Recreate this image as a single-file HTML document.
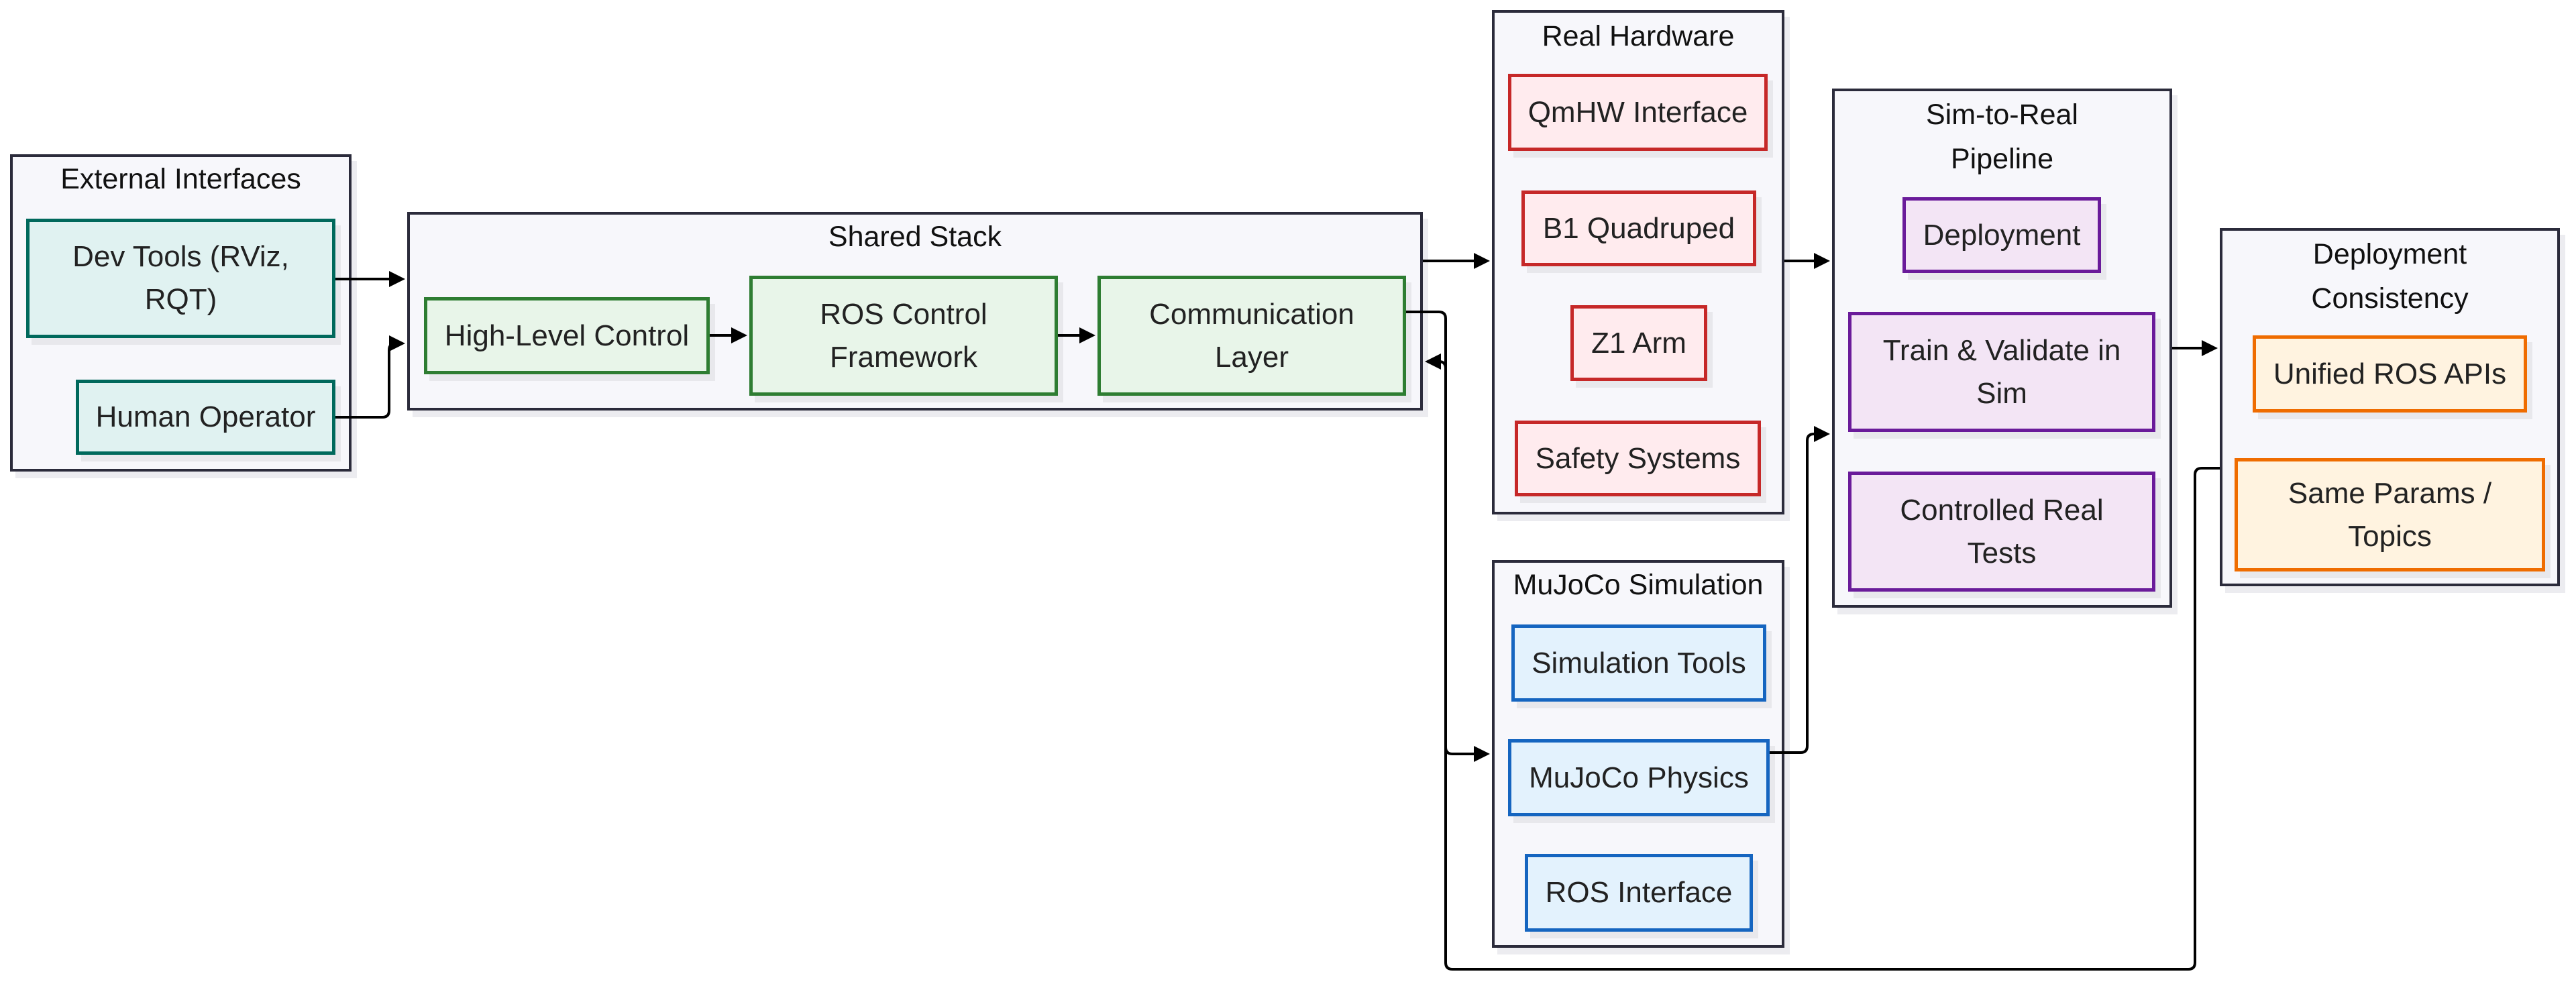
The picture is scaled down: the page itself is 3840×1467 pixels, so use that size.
<!DOCTYPE html>
<html><head><meta charset="utf-8"><style>
body{margin:0;width:3840px;height:1467px;background:#fff;position:relative;overflow:hidden;font-family:"Liberation Sans",sans-serif;color:#222;}
.c{position:absolute;background:#f7f7fb;border:4px solid #2b2b3b;box-sizing:border-box;box-shadow:8px 10px 0 #ececf0;}
.t{position:absolute;left:0;right:0;text-align:center;font-size:43px;line-height:66px;color:#111;}
.n{position:absolute;box-sizing:border-box;border:5px solid;display:flex;align-items:center;justify-content:center;text-align:center;font-size:44px;line-height:64px;box-shadow:8px 10px 0 #e8e8ec;color:#222;}
.g{border-color:#2e7d32;background:#e8f5e9}
.tl{border-color:#00695c;background:#e0f2f1}
.r{border-color:#c62828;background:#ffebee}
.b{border-color:#1565c0;background:#e3f2fd}
.p{border-color:#6a1b9a;background:#f3e5f5}
.o{border-color:#ef6c00;background:#fff3e0}
svg{position:absolute;left:0;top:0}
</style></head><body>
<div class="c" style="left:15px;top:230px;width:509px;height:473px"><div class="t" style="top:0px">External Interfaces</div></div>
<div class="c" style="left:607px;top:316px;width:1514px;height:296px"><div class="t" style="top:0px">Shared Stack</div></div>
<div class="c" style="left:2224px;top:15px;width:436px;height:752px"><div class="t" style="top:2px">Real Hardware</div></div>
<div class="c" style="left:2224px;top:835px;width:436px;height:578px"><div class="t" style="top:0px">MuJoCo Simulation</div></div>
<div class="c" style="left:2731px;top:132px;width:507px;height:774px"><div class="t" style="top:2px">Sim-to-Real<br>Pipeline</div></div>
<div class="c" style="left:3309px;top:340px;width:507px;height:534px"><div class="t" style="top:2px">Deployment<br>Consistency</div></div>

<div class="n tl" style="left:39px;top:326px;width:461px;height:178px">Dev Tools (RViz,<br>RQT)</div>
<div class="n tl" style="left:113px;top:566px;width:387px;height:112px">Human Operator</div>
<div class="n g" style="left:632px;top:443px;width:426px;height:115px">High-Level Control</div>
<div class="n g" style="left:1117px;top:411px;width:460px;height:179px">ROS Control<br>Framework</div>
<div class="n g" style="left:1636px;top:411px;width:460px;height:179px">Communication<br>Layer</div>
<div class="n r" style="left:2248px;top:110px;width:387px;height:115px">QmHW Interface</div>
<div class="n r" style="left:2268px;top:284px;width:350px;height:113px">B1 Quadruped</div>
<div class="n r" style="left:2341px;top:455px;width:204px;height:113px">Z1 Arm</div>
<div class="n r" style="left:2258px;top:627px;width:367px;height:113px">Safety Systems</div>
<div class="n b" style="left:2253px;top:931px;width:380px;height:115px">Simulation Tools</div>
<div class="n b" style="left:2248px;top:1102px;width:390px;height:115px">MuJoCo Physics</div>
<div class="n b" style="left:2273px;top:1273px;width:340px;height:116px">ROS Interface</div>
<div class="n p" style="left:2836px;top:294px;width:296px;height:113px">Deployment</div>
<div class="n p" style="left:2755px;top:465px;width:458px;height:179px">Train &amp; Validate in<br>Sim</div>
<div class="n p" style="left:2755px;top:703px;width:458px;height:179px">Controlled Real<br>Tests</div>
<div class="n o" style="left:3358px;top:500px;width:409px;height:115px">Unified ROS APIs</div>
<div class="n o" style="left:3331px;top:683px;width:463px;height:169px">Same Params /<br>Topics</div>

<svg width="3840" height="1467" viewBox="0 0 3840 1467">
<defs><marker id="a" markerWidth="6" markerHeight="6" refX="5" refY="3" orient="auto" markerUnits="strokeWidth"><path d="M0,0 L6,3 L0,6 z" fill="#000"/></marker></defs>
<g fill="none" stroke="#000" stroke-width="4" marker-end="url(#a)">
<path d="M500 416 H600"/>
<path d="M500 622 H570 Q580 622 580 612 V522 Q580 512 590 512 H600"/>
<path d="M1058 500 H1110"/>
<path d="M1577 500 H1629"/>
<path d="M2121 389 H2217"/>
<path d="M2096 465 H2145 Q2155 465 2155 475 V1114 Q2155 1124 2165 1124 H2217"/>
<path d="M2660 389 H2724"/>
<path d="M2638 1122 H2684 Q2694 1122 2694 1112 V657 Q2694 647 2704 647 H2724"/>
<path d="M3238 519 H3302"/>
<path d="M3309 698 H3282 Q3272 698 3272 708 V1435 Q3272 1445 3262 1445 H2165 Q2155 1445 2155 1435 V549 Q2155 539 2145 539 H2128"/>
</g>
</svg>
</body></html>
